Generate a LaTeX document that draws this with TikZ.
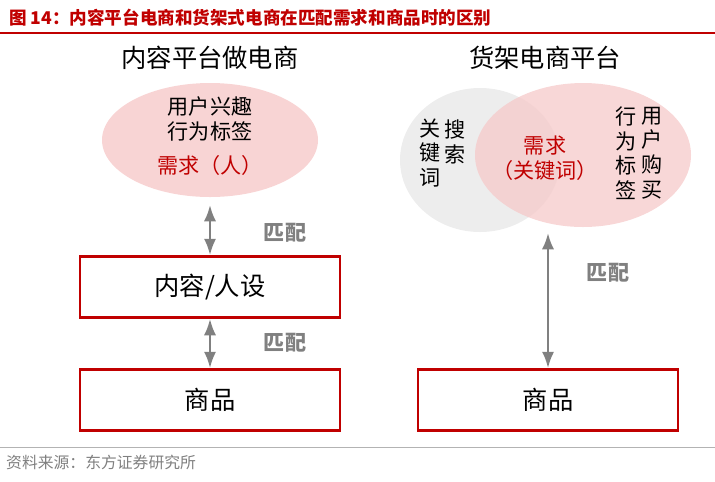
\documentclass[tikz,border=0pt]{standalone}
\usepackage{fontspec}
\setmainfont{Noto Sans CJK SC}
\usetikzlibrary{positioning,arrows.meta}
\definecolor{dfred}{HTML}{C00000}
\definecolor{dfpink}{HTML}{F6C9C9}
\definecolor{dfgray}{HTML}{808080}
\tikzstyle{box}=[draw=dfred, line width=1.6pt, minimum width=5.2cm, minimum height=1.22cm, font=\Large]
\tikzstyle{pair}=[Latex-Latex, draw=dfgray, line width=1.4pt]
\tikzstyle{lab}=[text=dfgray, font=\large\bfseries]
\tikzstyle{vert}=[align=center, font=\large, inner sep=0pt]
\begin{document}
\begin{tikzpicture}[x=0.02cm, y=-0.02cm]
	\useasboundingbox (0,0) rectangle (715,481);
	\node[anchor=west, text=dfred, font=\bfseries] (title) at (3,18) {图 14：内容平台电商和货架式电商在匹配需求和商品时的区别};
	\draw[dfred, line width=0.8pt] (0,33) -- (715,33);
	\draw[dfgray!60, line width=0.5pt] (0,447) -- (715,447);
	\node[anchor=west, text=dfgray, font=\small] (src) at (0,462) {资料来源：东方证券研究所};
	% left side
	\node[font=\Large] (lhead) at (210,58) {内容平台做电商};
	\fill[dfpink!80] (210,140) ellipse [x radius=108, y radius=57];
	\node[font=\large, align=center] (tag) at (210,119) {用户兴趣\\行为标签};
	\node[font=\large, text=dfred] (need) at (210,165) {需求（人）};
	\node[box] (ren) at (210,287) {内容/人设};
	\node[box] (lgoods) at (210,400) {商品};
	\coordinate (e1) at (210,205);
	\draw[pair] (e1) -- (ren.north);
	\draw[pair] (ren.south) -- (lgoods.north);
	\node[lab] (m1) at (285,233) {匹配};
	\node[lab] (m2) at (285,343) {匹配};
	% right side
	\node[font=\Large] (rhead) at (545,58) {货架电商平台};
	\fill[black!7] (480,160) ellipse [x radius=80, y radius=72];
	\fill[dfpink, opacity=0.75] (583,155) ellipse [x radius=108, y radius=72];
	\node[vert] (k1) at (430,153) {关\\键\\词};
	\node[vert] (k2) at (455,142) {搜\\索};
	\node[font=\large, text=dfred, align=center] (kw) at (545,158) {需求\\（关键词）};
	\node[vert] (t1) at (626,153) {行\\为\\标\\签};
	\node[vert] (t2) at (652,153) {用\\户\\购\\买};
	\node[box] (rgoods) at (548,400) {商品};
	\coordinate (e2) at (548,233);
	\draw[pair] (e2) -- (rgoods.north);
	\node[lab] (m3) at (608,273) {匹配};
\end{tikzpicture}
\end{document}
